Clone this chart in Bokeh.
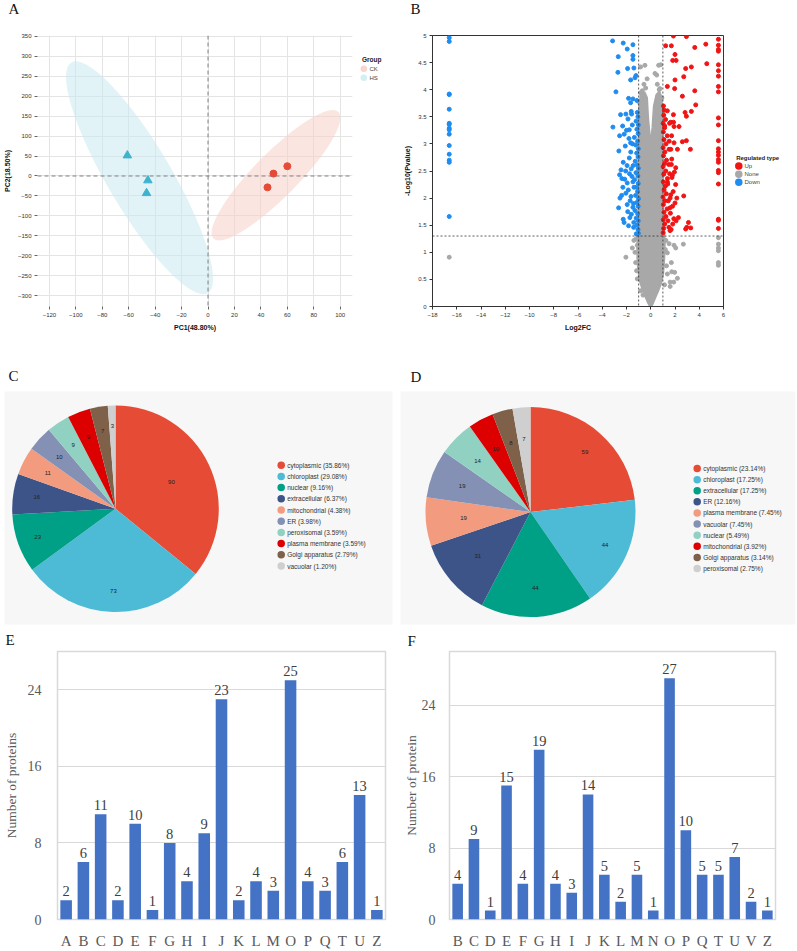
import numpy as np
import pandas as pd
from bokeh.plotting import figure
from bokeh.models import (ColumnDataSource, Range1d, FactorRange, Span,
                          SingleIntervalTicker, FixedTicker, NumeralTickFormatter)
from bokeh.layouts import column, row
from bokeh.embed import file_html
from bokeh.resources import INLINE
from bokeh.core.properties import value

# ------------------------------------------------------------------ data
# A: PCA scores
pca_ck_x = [49.5, 60.0, 45.0]
pca_ck_y = [6.0, 24.5, -28.5]
pca_hs_x = [-61.0, -45.5, -46.5]
pca_hs_y = [51.5, -11.0, -43.0]
ell_center_x = [51.4, -51.8]      # CK, HS confidence ellipses
ell_center_y = [1.8, -4.5]
pca_groups = ["CK", "HS"]

# B: volcano
down_x = [-16.62] * 15 + [
    -3.15, -2.27, -1.47, -1.94, -1.47, -1.47, -2.68, -1.91, -1.39, -2.71, -1.22, -1.30, -1.66,
    -2.87, -1.83, -1.47, -1.66, -1.14, -2.49, -2.05, -1.61, -3.12, -2.32, -1.88, -2.57, -2.19,
    -1.77, -2.63, -2.10, -1.66, -2.27, -1.77, -2.57, -2.07, -1.61, -2.38, -1.94, -1.47, -2.05,
    -2.54, -1.63, -2.65, -1.94, -1.47, -2.27, -1.72, -1.83, -1.41, -1.19,
    -1.02, -1.05, -1.12, -1.03, -1.20, -1.08, -1.30, -1.04, -1.15, -1.01, -1.25, -1.09, -1.18,
    -1.03, -1.33, -1.06, -1.22, -1.02, -1.12, -1.28, -1.05, -1.16, -1.02, -1.24, -1.08, -1.35,
    -1.04, -1.14, -1.02, -1.21, -1.06, -1.11, -1.38, -1.42, -1.45, -1.50, -1.55, -1.40, -1.60,
    -1.52, -1.75, -1.85, -1.95, -2.15, -1.70, -2.30, -1.80, -2.00, -1.65, -2.45, -1.90, -2.20,
    -1.58, -2.40]
down_y = [4.96, 4.89, 3.92, 3.91, 3.64, 3.38, 3.36, 3.29, 3.26, 3.18, 2.97, 2.81, 2.70, 2.66, 1.66] + [
    4.90, 4.86, 4.83, 4.75, 4.63, 4.56, 4.61, 4.39, 4.40, 4.32, 4.26, 4.22, 4.18,
    3.96, 3.84, 3.83, 3.76, 3.80, 3.54, 3.55, 3.60, 3.31, 3.33, 3.46, 3.15, 3.18,
    3.26, 2.87, 2.96, 3.02, 2.66, 2.74, 2.43, 2.50, 2.54, 2.36, 2.28, 2.30, 2.09,
    2.00, 2.03, 1.82, 1.88, 1.83, 1.61, 1.64, 1.49, 1.46, 1.34,
    1.35, 1.42, 1.50, 1.58, 1.63, 1.71, 1.77, 1.85, 1.92, 1.99, 2.05, 2.12, 2.20,
    2.27, 2.34, 2.41, 2.47, 2.55, 2.61, 2.68, 2.76, 2.83, 2.91, 2.98, 3.05, 3.12,
    3.19, 3.27, 3.35, 3.42, 3.50, 3.58, 2.20, 1.90, 2.60, 3.00, 2.40, 1.55, 1.70,
    3.35, 2.45, 2.15, 2.60, 2.35, 1.95, 2.20, 3.10, 3.25, 2.85, 2.52, 1.75, 1.55,
    3.55, 2.05]
up_x = [5.58] * 23 + [
    1.87, 2.94, 1.23, 1.70, 3.63, 4.54, 4.62, 2.00, 1.81, 2.09, 3.35, 2.88, 2.72, 2.00, 1.37,
    1.97, 3.63, 2.61, 3.71, 3.35, 2.83, 2.94, 1.87, 1.37, 1.65, 1.92, 2.33, 1.15, 2.61, 2.94,
    3.27, 2.20, 1.92, 1.51, 1.73, 2.06, 1.78, 1.37, 1.65, 2.72, 2.00, 1.59, 2.28, 2.09, 3.11,
    2.97, 3.30, 2.88, 1.81, 1.59,
    1.02, 1.06, 1.15, 1.03, 1.25, 1.09, 1.35, 1.04, 1.18, 1.01, 1.28, 1.10, 1.20, 1.03, 1.38,
    1.07, 1.24, 1.02, 1.14, 1.30, 1.05, 1.17, 1.02, 1.26, 1.09, 1.36, 1.04, 1.15, 1.02, 1.22,
    1.07, 1.12, 1.05, 1.40, 1.45, 1.48, 1.52, 1.56, 1.42, 1.62, 1.55, 1.60, 1.50,
    1.75, 1.85, 1.70, 1.95, 1.80, 2.05, 1.72, 1.90, 1.65, 2.15, 1.68, 1.88]
up_y = [4.93, 4.82, 4.74, 4.71, 4.46, 4.35, 4.25, 4.06, 3.96, 3.48, 3.35, 3.06, 2.91, 2.85,
        2.79, 2.71, 2.66, 2.51, 2.47, 2.26, 1.61, 1.59, 1.44] + [
    4.99, 4.98, 4.81, 4.81, 4.78, 4.84, 4.48, 4.65, 4.54, 4.54, 4.42, 4.39, 4.24, 4.18, 4.06,
    4.02, 3.98, 3.88, 3.72, 3.60, 3.58, 3.51, 3.54, 3.61, 3.40, 3.32, 3.32, 3.33, 3.04, 3.06,
    2.90, 2.90, 3.02, 2.90, 2.72, 2.56, 2.42, 2.30, 2.06, 2.04, 1.91, 1.82, 1.64, 1.58, 1.55,
    1.46, 1.45, 1.43, 1.52, 1.40,
    1.36, 1.44, 1.52, 1.60, 1.66, 1.74, 1.80, 1.88, 1.95, 2.02, 2.08, 2.15, 2.22, 2.30, 2.36,
    2.44, 2.50, 2.58, 2.64, 2.70, 2.78, 2.85, 2.93, 3.00, 3.08, 3.15, 3.22, 3.30, 3.38, 3.45,
    3.53, 3.62, 3.70, 2.26, 1.95, 2.62, 3.05, 2.45, 1.58, 1.72, 3.38, 2.00, 1.46,
    2.38, 2.12, 2.62, 2.48, 1.85, 2.25, 3.15, 1.62, 2.90, 2.00, 1.42, 3.40]
none_x = [-16.62, 5.58, 5.58, 5.58, 5.58, 5.58, 5.58,
          -0.84, -0.48, 0.65, 0.82, 0.49, -0.42, -0.84, -0.56, 0.54, 0.70, -0.30, 0.35,
          -2.05, -1.52, -1.39, -1.11, -1.25, -1.17, -1.11, -0.83, -0.64, -1.30, -1.20,
          1.37, 1.73, 2.20, 1.60, 1.90, 1.14, 1.60, 1.51, 1.92, 2.69, 2.06, 1.37, 1.70, 1.97,
          1.25, 1.30, 1.20, -0.98, -0.95, 0.97, 0.99, -0.90, 0.92, -0.70, 0.75]
none_y = [0.91, 1.27, 1.15, 1.08, 1.03, 0.81, 0.76,
          4.42, 4.45, 4.45, 4.46, 4.27, 4.03, 3.94, 4.10, 4.10, 4.00, 4.20, 4.30,
          0.91, 1.08, 1.22, 1.13, 0.81, 0.66, 0.51, 0.29, 0.21, 1.00, 1.25,
          0.60, 0.64, 0.52, 0.45, 0.45, 0.40, 0.37, 1.16, 1.13, 1.15, 1.08, 0.99, 0.81, 0.63,
          1.22, 0.75, 1.05, 2.50, 3.20, 2.80, 1.70, 3.75, 3.85, 3.98, 4.02]
# dense body of non-significant proteins (outline of the point cloud)
none_core_x = [0.0, 0.12, 0.30, 0.55, 0.80, 0.98, 1.08, 1.12, 1.05, 0.97, 0.96, 0.95, 0.93, 0.85,
               0.70, 0.50, 0.30, 0.18, 0.05, -0.10, -0.25, -0.35, -0.55, -0.80, -0.95, -0.97,
               -0.97, -0.98, -1.02, -1.08, -1.05, -0.90, -0.65, -0.40, -0.18]
none_core_y = [0.0, 0.05, 0.15, 0.28, 0.42, 0.60, 0.90, 1.20, 1.45, 1.80, 2.40, 3.00, 3.50, 3.85,
               3.95, 3.90, 3.70, 3.30, 3.00, 3.10, 3.45, 3.85, 3.95, 3.90, 3.60, 3.00,
               2.40, 1.80, 1.40, 1.10, 0.80, 0.50, 0.32, 0.18, 0.07]
reg_types = ["Up", "None", "Down"]

# C / D: subcellular localisation
c_names = ["cytoplasmic", "chloroplast", "nuclear", "extracellular", "mitochondrial", "ER",
           "peroxisomal", "plasma membrane", "Golgi apparatus", "vacuolar"]
c_counts = [90, 73, 23, 16, 11, 10, 9, 9, 7, 3]
d_names = ["cytoplasmic", "chloroplast", "extracellular", "ER", "plasma membrane", "vacuolar",
           "nuclear", "mitochondrial", "Golgi apparatus", "peroxisomal"]
d_counts = [59, 44, 44, 31, 19, 19, 14, 10, 8, 7]

# E / F: COG/KOG classes
e_cats = ["A", "B", "C", "D", "E", "F", "G", "H", "I", "J", "K", "L", "M", "O", "P", "Q", "T", "U", "Z"]
e_vals = [2, 6, 11, 2, 10, 1, 8, 4, 9, 23, 2, 4, 3, 25, 4, 3, 6, 13, 1]
f_cats = ["B", "C", "D", "E", "F", "G", "H", "I", "J", "K", "L", "M", "N", "O", "P", "Q", "T", "U", "V", "Z"]
f_vals = [4, 9, 1, 15, 4, 19, 4, 3, 14, 5, 2, 5, 1, 27, 10, 5, 5, 7, 2, 1]

# ------------------------------------------------------------------ style
SANS = "Liberation Sans"
SERIF = "Liberation Serif"
PIE_COLORS = ["#E64B35", "#4DBBD5", "#00A087", "#3C5488", "#F39B7F", "#8491B4",
              "#91D1C2", "#DC0000", "#7E6148", "#CFCFCF"]


def base_fig(width, height, x_range, y_range, mbl, mbr, mbt, mbb, **kw):
    p = figure(width=width, height=height, x_range=x_range, y_range=y_range,
               output_backend="svg", toolbar_location=None, title=None,
               min_border_left=mbl, min_border_right=mbr,
               min_border_top=mbt, min_border_bottom=mbb, **kw)
    p.border_fill_color = "white"
    return p


def blank_fig(width, height):
    """Pixel-coordinate figure (y downward) for panel letters and external legends."""
    p = base_fig(width, height, Range1d(0, width), Range1d(height, 0), 0, 0, 0, 0,
                 x_axis_location=None, y_axis_location=None)
    p.grid.visible = False
    p.outline_line_color = None
    return p


def letter_strip(height, letters, xs, ys):
    p = blank_fig(797, height)
    p.text(x=xs, y=ys, text=letters, text_baseline="middle", text_align="left",
           text_font=value(SERIF), text_font_size="15px", text_color="#111111")
    return p


def sans_axes(p, tick_size="6px", label_size="7px"):
    for ax in p.axis:
        ax.major_tick_out = 3
        ax.major_tick_in = 0
        ax.minor_tick_line_color = None
        ax.major_label_text_font = SANS
        ax.major_label_text_font_size = tick_size
        ax.major_label_text_color = "#333333"
        ax.major_label_standoff = 2
        ax.axis_label_text_font = SANS
        ax.axis_label_text_font_size = label_size
        ax.axis_label_text_font_style = "bold"
        ax.axis_label_text_color = "#111111"
        ax.axis_label_standoff = 4


def legend_fig(width, height, title, labels, colors, title_x, title_y, gx, gy0, gdy, tx,
               size, font_size, title_size):
    p = blank_fig(width, height)
    n = len(labels)
    ys = [gy0 + i * gdy for i in range(n)]
    p.text(x=[title_x], y=[title_y], text=[title], text_baseline="middle", text_align="left",
           text_font=value(SANS), text_font_size=title_size, text_font_style="bold", text_color="#222222")
    p.scatter(x=[gx] * n, y=ys, marker="circle", size=size, fill_color=colors, line_color=None)
    p.text(x=[tx] * n, y=ys, text=labels, text_baseline="middle", text_align="left",
           text_font=value(SANS), text_font_size=font_size, text_color="#444444")
    return p


# ------------------------------------------------------------------ A  PCA
pA = base_fig(356, 316, Range1d(-129, 109.3), Range1d(-327, 352), 36, 4, 15, 30)
pA.outline_line_color = None
pA.xaxis.ticker = SingleIntervalTicker(interval=20)
pA.yaxis.ticker = SingleIntervalTicker(interval=50)
sans_axes(pA)
for ax in pA.axis:
    ax.axis_line_color = None
    ax.major_tick_line_color = "#666666"
pA.xaxis.axis_label = "PC1(48.80%)"
pA.yaxis.axis_label = "PC2(18.50%)"
pA.grid.grid_line_color = "#E4E4E4"
pA.ellipse(x=ell_center_x, y=ell_center_y, width=[178, 268], height=[44, 64],
           angle=[0.792, -1.037], width_units="screen", height_units="screen",
           fill_color=["#F8CFC6", "#C9EAF1"], fill_alpha=0.55, line_color=None)
pA.add_layout(Span(location=0, dimension="width", line_color="#808080", line_dash="4 3", line_width=1))
pA.add_layout(Span(location=0, dimension="height", line_color="#808080", line_dash="4 3", line_width=1))
pA.scatter(pca_hs_x, pca_hs_y, marker="triangle", size=8.5, color="#3DB3CF")
pA.scatter(pca_ck_x, pca_ck_y, marker="circle", size=7, color="#E64B35")
legA = legend_fig(44, 316, "Group", pca_groups, ["#F9D5CC", "#D3EEF4"],
                  5.5, 28.5, 7.3, 38.7, 10.6, 13.0, 6.5, "6px", "6.5px")

# ------------------------------------------------------------------ B  volcano
pB = base_fig(327, 316, Range1d(-18, 6), Range1d(0, 5), 32, 4, 9, 27)
pB.outline_line_color = "#333333"
pB.grid.grid_line_color = None
pB.xaxis.ticker = SingleIntervalTicker(interval=2)
pB.yaxis.ticker = SingleIntervalTicker(interval=0.5)
pB.yaxis.formatter = NumeralTickFormatter(format="0.[0]")
sans_axes(pB)
for ax in pB.axis:
    ax.axis_line_color = "#333333"
    ax.major_tick_line_color = "#333333"
pB.xaxis.axis_label = "Log2FC"
pB.yaxis.axis_label = "-Log10(Pvalue)"
pB.patch(none_core_x, none_core_y, fill_color="#A8A8A8", line_color="#A8A8A8", line_width=3)
pB.scatter(none_x, none_y, marker="circle", size=4, color="#A8A8A8")
pB.scatter(down_x, down_y, marker="circle", size=4, color="#1E8CF0")
pB.scatter(up_x, up_y, marker="circle", size=4, color="#F01414")
for loc, dim in [(-1, "height"), (1, "height"), (1.3, "width")]:
    pB.add_layout(Span(location=loc, dimension=dim, line_color="#333333", line_dash="2 2", line_width=0.8))
legB = legend_fig(70, 316, "Regulated type", reg_types, ["#F01414", "#A8A8A8", "#1E8CF0"],
                  8.7, 143.3, 11.3, 152.3, 9.35, 17.0, 7.5, "6px", "6px")


# ------------------------------------------------------------------ C / D  pies
def pie_panel(names, counts, width, height, mbl, mbr, mbt, mbb, cx, cy, rad, lab_r,
              leg_x, leg_y, leg_dy, leg_tx):
    fw = width - mbl - mbr
    fh = height - mbt - mbb
    p = base_fig(width, height, Range1d(-cx / rad, (fw - cx) / rad),
                 Range1d(-(fh - cy) / rad, cy / rad), mbl, mbr, mbt, mbb,
                 x_axis_location=None, y_axis_location=None)
    p.grid.visible = False
    p.outline_line_color = None
    p.background_fill_color = "#F7F7F7"
    df = pd.DataFrame({"name": names, "count": counts})
    total = df["count"].sum()
    cum = df["count"].cumsum()
    df["start"] = np.pi / 2 - 2 * np.pi * (cum - df["count"]) / total
    df["end"] = np.pi / 2 - 2 * np.pi * cum / total
    df["mid"] = (df["start"] + df["end"]) / 2
    df["color"] = PIE_COLORS[:len(df)]
    df["lr"] = lab_r
    df["lx"] = df["lr"] * np.cos(df["mid"])
    df["ly"] = df["lr"] * np.sin(df["mid"])
    df["txt"] = df["count"].astype(str)
    df["legend"] = [f"{n} ({100 * c / total:.2f}%)" for n, c in zip(df["name"], df["count"])]
    idx = np.arange(len(df))
    df["gx"] = (leg_x - cx) / rad
    df["gy"] = (cy - (leg_y + idx * leg_dy)) / rad
    df["gtx"] = (leg_tx - cx) / rad
    src = ColumnDataSource(df)
    p.wedge(x=0, y=0, radius=1, start_angle="start", end_angle="end", direction="clock",
            fill_color="color", line_color=None, source=src)
    p.text(x="lx", y="ly", text="txt", source=src, text_align="center", text_baseline="middle",
           text_font=value(SANS), text_font_size="6px", text_color="#222222")
    p.scatter(x="gx", y="gy", source=src, marker="circle", size=7.5, fill_color="color", line_color=None)
    p.text(x="gtx", y="gy", text="legend", source=src, text_align="left", text_baseline="middle",
           text_font=value(SANS), text_font_size="6.5px", text_color="#333333")
    return p


pC = pie_panel(c_names, c_counts, 400, 244, 4, 8, 5, 6, 111, 117.3, 103.3,
               [0.6, 0.8, 0.8, 0.77, 0.74, 0.74, 0.74, 0.74, 0.76, 0.8],
               276.7, 73.7, 11.2, 282.7)
pD = pie_panel(d_names, d_counts, 397, 244, 0, 2, 3, 2, 130, 123.7, 105,
               [0.78, 0.78, 0.74, 0.66, 0.64, 0.7, 0.71, 0.7, 0.7, 0.72],
               296.7, 79, 11.4, 302.7)


# ------------------------------------------------------------------ E / F  bars
def bar_panel(cats, vals, width, height, mbl, mbr, mbt, mbb, ymax, ylabel,
              lab_standoff, axlab_standoff, bar_w):
    src = ColumnDataSource(dict(cat=cats, val=vals, lab=[str(v) for v in vals]))
    p = base_fig(width, height, FactorRange(factors=cats), Range1d(0, ymax), mbl, mbr, mbt, mbb)
    p.outline_line_color = "#D9D9D9"
    p.outline_line_width = 1.5
    p.xgrid.grid_line_color = None
    p.ygrid.grid_line_color = "#D9D9D9"
    p.ygrid.grid_line_width = 1.2
    p.yaxis.ticker = FixedTicker(ticks=[0, 8, 16, 24])
    for ax in p.axis:
        ax.axis_line_color = None
        ax.major_tick_line_color = None
        ax.minor_tick_line_color = None
        ax.major_label_text_font = SERIF
        ax.major_label_text_color = "#595959"
        ax.axis_label_text_font = SERIF
        ax.axis_label_text_font_style = "normal"
        ax.axis_label_text_color = "#595959"
    p.yaxis.major_label_text_font_size = "14px"
    p.yaxis.major_label_standoff = lab_standoff
    p.yaxis.axis_label = ylabel
    p.yaxis.axis_label_text_font_size = "13.5px"
    p.yaxis.axis_label_standoff = axlab_standoff
    p.xaxis.major_label_text_font_size = "15px"
    p.xaxis.major_label_standoff = 7
    p.vbar(x="cat", top="val", width=bar_w, source=src, fill_color="#4472C4", line_color=None)
    p.text(x="cat", y="val", text="lab", source=src, text_align="center", text_baseline="alphabetic",
           y_offset=-9, text_font=value(SERIF), text_font_size="14.5px", text_color="#404040")
    return p


pE = bar_panel(e_cats, e_vals, 400, 303, 44, 15, 1, 26, 28, "Number of proteins", 10, 6, 0.67)
pF = bar_panel(f_cats, f_vals, 397, 303, 36, 22, 3, 25, 30, "Number of protein", 8, 0, 0.65)

# ------------------------------------------------------------------ panel letters
strip1 = letter_strip(20, ["A", "B"], [8, 410], [8.5, 8.5])
strip2 = letter_strip(50, ["C", "D"], [8, 410], [39, 40.5])
strip3 = letter_strip(18, ["E", "F"], [5, 407], [9.5, 10])

layout = column(strip1, row(pA, legA, pB, legB),
                strip2, row(pC, pD),
                strip3, row(pE, pF))
open("out.html", "w").write(file_html(layout, INLINE))
